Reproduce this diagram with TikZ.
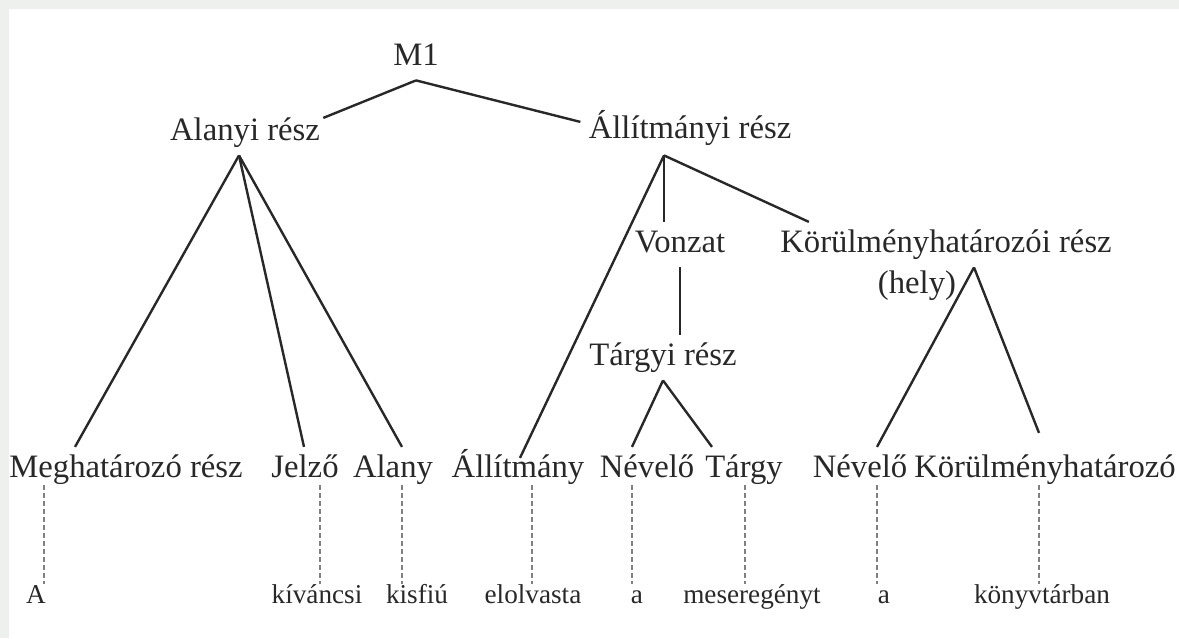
\documentclass[tikz,border=0pt]{standalone}
\usepackage{fontspec}
\setmainfont{Liberation Serif}
\usetikzlibrary{calc}
\definecolor{framegray}{RGB}{238,240,238}
\definecolor{ink}{RGB}{40,40,40}
\tikzset{
  cat/.style={anchor=base,inner xsep=0pt,inner ysep=3.4pt,text height=11.45pt,text depth=4.1pt,font=\fontsize{16.35}{19}\selectfont,text=ink},
  word/.style={anchor=base,inner sep=0pt,text height=9.5pt,text depth=3.4pt,font=\fontsize{13.6}{16}\selectfont,text=ink},
  branch/.style={draw=ink,line width=1.2pt},
  gloss/.style={draw=black!50,line width=1.3pt,dash pattern=on 2.5pt off 1.5pt,shorten <=-3.5pt}
}
\begin{document}
\begin{tikzpicture}[x=0.5pt,y=-0.5pt]
        % Frame
        \useasboundingbox (0,0) rectangle (1179,638);
        \fill[framegray](0,0) rectangle (1179,9);
        \fill[framegray](0,0) rectangle (9,638);
        % Phrase levels
        \node[cat](m1) at (416,65){M1};
        \node[cat](alr) at (245,140){Alanyi rész};
        \node[cat](allr) at (690,138){Állítmányi rész};
        \node[cat](vonzat) at (680,252){Vonzat};
        \node[cat](korr) at (946,252){Körülményhatározói rész};
        \node[cat](hely) at (917,293){(hely)};
        \node[cat](targyi) at (663,365){Tárgyi rész};
        % Word categories
        \node[cat](megh) at (126,477){Meghatározó rész};
        \node[cat](jelzo) at (305,477){Jelző};
        \node[cat](alany) at (393,477){Alany};
        \node[cat](allm) at (518,477){Állítmány};
        \node[cat](nev1) at (647,477){Névelő};
        \node[cat](targy) at (744,477){Tárgy};
        \node[cat](nev2) at (860,477){Névelő};
        \node[cat](korh) at (1045,477){Körülményhatározó};
        % Sentence words
        \node[word](wa) at (36,603){A};
        \node[word](wkiv) at (317,603){kíváncsi};
        \node[word](wkis) at (417,603){kisfiú};
        \node[word](welo) at (533,603){elolvasta};
        \node[word](wa1) at (637,603){a};
        \node[word](wmes) at (752,603){meseregényt};
        \node[word](wa2) at (884,603){a};
        \node[word](wkonyv) at (1042,603){könyvtárban};
        % Branches
        \draw[branch](m1.south)--($(alr.north east)+(3,8)$);
        \draw[branch](m1.south)--($(allr.north west)+(-8,14)$);
        \draw[branch]($(alr.south)+(-6,0)$)--($(megh.north)+(-51,0)$);
        \draw[branch]($(alr.south)+(-6,0)$)--($(jelzo.north)+(-1,0)$);
        \draw[branch]($(alr.south)+(-6,0)$)--($(alany.north)+(9,0)$);
        \draw[branch]($(allr.south)+(-26,2)$)--($(allm.north)+(2,11)$);
        \draw[branch]($(allr.south)+(-26,2)$)--($(vonzat.north)+(-16,0)$);
        \draw[branch]($(allr.south)+(-26,2)$)--($(korr.north west)+(29,0)$);
        \draw[branch](vonzat.south)--(vonzat.south |- targyi.north);
        \draw[branch](targyi.south)--($(nev1.north)+(-15,0)$);
        \draw[branch](targyi.south)--($(targy.north)+(-32,0)$);
        \draw[branch]($(korr.south)+(28,0)$)--($(nev2.north)+(17,0)$);
        \draw[branch]($(korr.south)+(28,0)$)--($(korh.north)+(-6,-14)$);
        % Dashed links to the words
        \draw[gloss]($(megh.south)+(-82,0)$)--($(wa.north)+(8,0)$);
        \draw[gloss]($(jelzo.south)+(15,0)$)--($(wkiv.north)+(3,0)$);
        \draw[gloss]($(alany.south)+(9,0)$)--($(wkis.north)+(-15,0)$);
        \draw[gloss]($(allm.south)+(14,0)$)--($(welo.north)+(-1,0)$);
        \draw[gloss]($(nev1.south)+(-15,0)$)--($(wa1.north)+(-5,0)$);
        \draw[gloss]($(targy.south)+(1,0)$)--($(wmes.north)+(-7,0)$);
        \draw[gloss]($(nev2.south)+(17,0)$)--($(wa2.north)+(-7,0)$);
        \draw[gloss]($(korh.south)+(-6,0)$)--($(wkonyv.north)+(-3,0)$);
\end{tikzpicture}
\end{document}
